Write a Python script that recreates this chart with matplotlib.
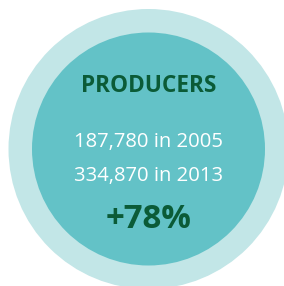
import matplotlib
matplotlib.use("Agg")
import matplotlib.pyplot as plt
from matplotlib.patches import Circle

title = "PRODUCERS"
counts = [187780, 334870]
years = [2005, 2013]
change = "+78%"

W, H = 284, 286
fig = plt.figure(figsize=(W / 100, H / 100), dpi=100, facecolor="white")
ax = fig.add_axes([0, 0, 1, 1])
ax.set_xlim(0, W)
ax.set_ylim(H, 0)
ax.axis("off")

cx, cy = 148.5, 149
ax.add_patch(Circle((cx, cy), 140, facecolor="#C2E6E7", edgecolor="none"))
ax.add_patch(Circle((cx, cy), 116.5, facecolor="#63C2C7", edgecolor="none"))

green = "#0B5B37"
font = "Open Sans"
ax.text(cx, 86, title, ha="center", va="center", color=green,
        fontsize=16.3, fontweight="bold", family=font)
for i, (n, yr) in enumerate(zip(counts, years)):
    ax.text(cx, 142 + 34 * i, f"{n:,} in {yr}", ha="center", va="center",
            color="white", fontsize=14.6, family=font)
ax.text(cx, 220, change, ha="center", va="center", color=green,
        fontsize=23.8, fontweight="bold", family=font)

fig.savefig("out.png", dpi=100)
